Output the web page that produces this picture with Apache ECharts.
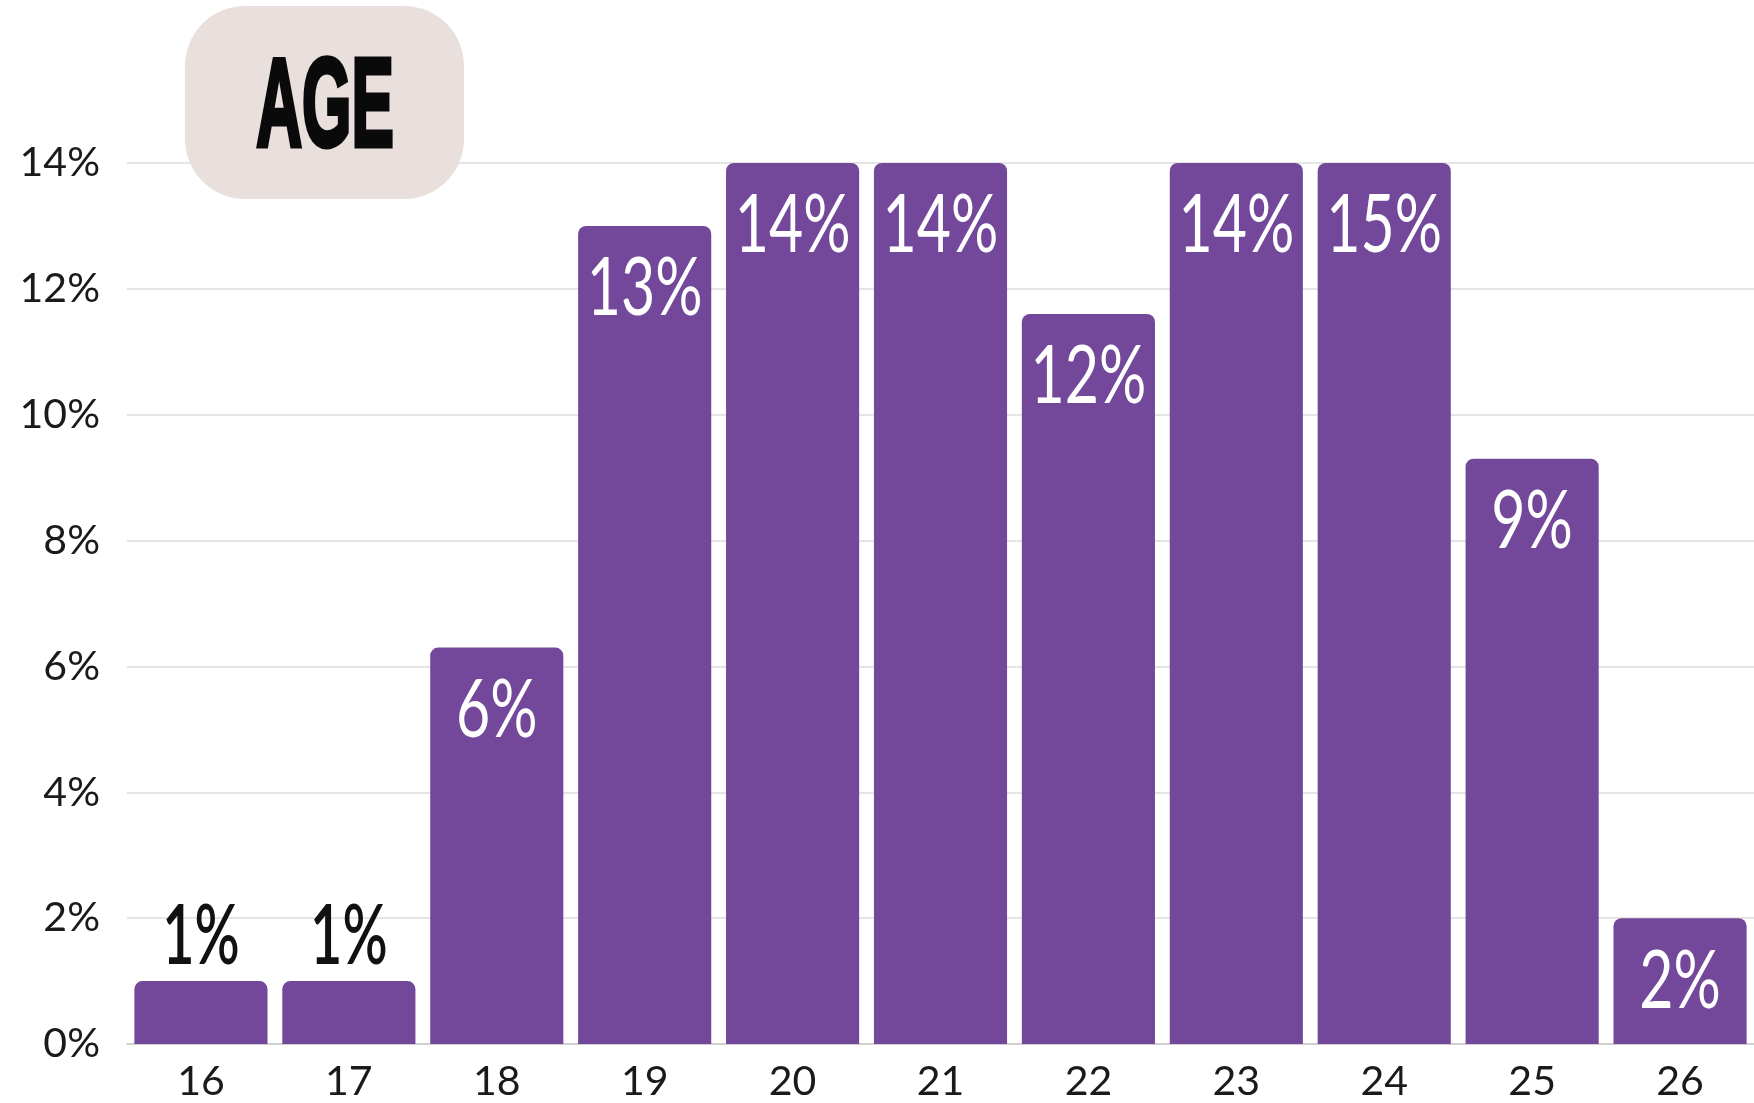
<!DOCTYPE html>
<html>
<head>
<meta charset="utf-8">
<script src="https://cdn.jsdelivr.net/npm/echarts@6/dist/echarts.min.js"></script>
<style>
  html, body { margin: 0; padding: 0; background: #fff; }
  #chart { width: 1754px; height: 1103px; }
</style>
</head>
<body>
<div id="chart"></div>
<script>
const ages = ['16', '17', '18', '19', '20', '21', '22', '23', '24', '25', '26']
// bar heights as drawn (percent)
const shares = [1, 1, 6.3, 13, 14, 14, 11.6, 14, 14, 9.3, 2]
// text printed on the bars
const shareLabels = ['1%', '1%', '6%', '13%', '14%', '14%', '12%', '14%', '15%', '9%', '2%']
const yTicks = { min: 0, max: 14, interval: 2 }

const purple = '#73489b'

const chart = echarts.init(document.getElementById('chart'))

// labels are drawn with a custom series so they can be squeezed horizontally
function renderLabel(params, api) {
  const i = params.dataIndex
  const v = api.value(1)
  const top = api.coord([api.value(0), v])
  const outside = v < 1.5
  return {
    type: 'text',
    x: top[0],
    y: outside ? top[1] - 44 : top[1] + 63,
    scaleX: outside ? 0.68 : 0.72,
    style: {
      text: shareLabels[i],
      x: 0,
      y: 0,
      align: 'center',
      verticalAlign: 'middle',
      font: (outside ? '600 ' : '400 ') + '82px Lato',
      fill: outside ? '#111' : '#fff'
    }
  }
}

chart.setOption({
  animation: false,
  grid: { left: 127, right: -2, top: 163, bottom: 59 },
  graphic: [
    {
      type: 'rect',
      left: 185,
      top: 6,
      shape: { width: 279, height: 193, r: 60 },
      style: { fill: '#e9e0de' },
      z: 10
    },
    {
      type: 'text',
      x: 325,
      y: 111,
      scaleX: 0.5,
      style: {
        text: 'AGE',
        x: 0,
        y: 0,
        align: 'center',
        verticalAlign: 'middle',
        font: 'bold 127px "Liberation Sans"',
        fill: '#0a0a0a',
        stroke: '#0a0a0a',
        lineWidth: 5
      },
      z: 11
    }
  ],
  xAxis: {
    type: 'category',
    data: ages,
    axisLine: { lineStyle: { color: '#c8c8c8', width: 1.5 } },
    axisTick: { show: false },
    axisLabel: { color: '#1a1a1a', fontSize: 41, fontFamily: 'Lato', margin: 17 }
  },
  yAxis: {
    type: 'value',
    min: yTicks.min,
    max: yTicks.max,
    interval: yTicks.interval,
    axisLine: { show: false },
    axisTick: { show: false },
    splitLine: { lineStyle: { color: '#dcdcdc', width: 1.5 } },
    axisLabel: {
      formatter: '{value}%',
      color: '#1a1a1a',
      fontSize: 41,
      fontFamily: 'Lato',
      margin: 27
    }
  },
  series: [
    {
      type: 'bar',
      data: shares,
      barCategoryGap: '10%',
      itemStyle: { color: purple, borderRadius: [8, 8, 0, 0] }
    },
    {
      type: 'custom',
      data: shares.map((v, i) => [i, v]),
      encode: { x: 0, y: 1 },
      renderItem: renderLabel,
      z: 5
    }
  ]
})
</script>
</body>
</html>
